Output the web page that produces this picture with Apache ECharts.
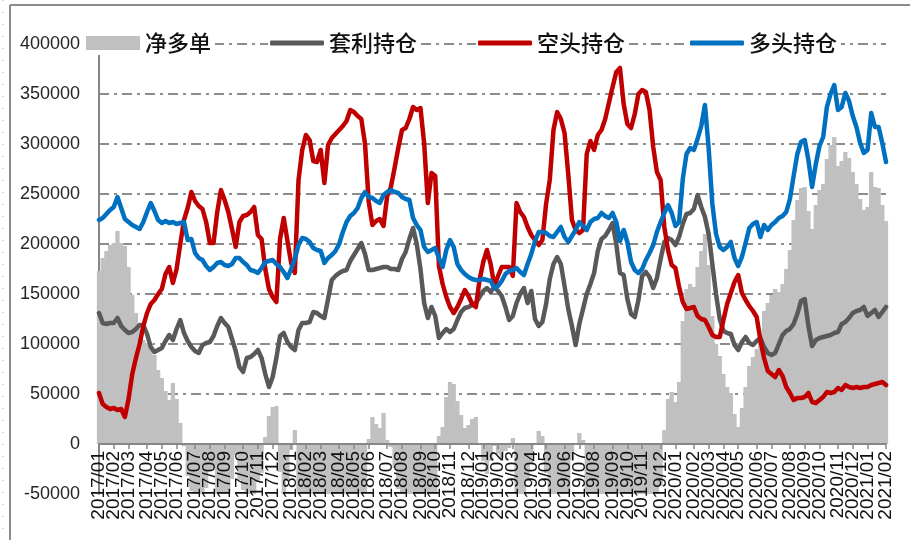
<!DOCTYPE html>
<html>
<head>
<meta charset="utf-8">
<script src="https://cdn.jsdelivr.net/npm/echarts@6/dist/echarts.min.js"></script>
<style>
  html, body { margin: 0; padding: 0; background: #fff; }
  #positionChart { width: 910px; height: 540px; }
</style>
</head>
<body>
<div id="positionChart"></div>
<script>
// weekly categories, 2017/01/06 .. 2021/02/05
var weeks = []
var d = new Date(Date.UTC(2017, 0, 6))
for (var k = 0; k < 214; k++) {
    var mm = ('0' + (d.getUTCMonth() + 1)).slice(-2)
    var dd = ('0' + d.getUTCDate()).slice(-2)
    weeks.push(d.getUTCFullYear() + '/' + mm + '/' + dd)
    d.setUTCDate(d.getUTCDate() + 7)
}

var yTicks = [-50000, 0, 50000, 100000, 150000, 200000, 250000, 300000, 350000, 400000]

// 净多单
var netLong = [
    173000, 186000, 193000, 199000, 201000, 213000, 201000, 198000, 177000, 149000,
    131000, 115000, 104000, 101000, 101000, 89000, 74000, 66000, 53000, 44000,
    61000, 45000, 21000, -2000, -32000, -47000, -50000, -50000, -50000, -44000,
    -27000, -24000, -50000, -50000, -50000, -50000, -35000, -11000, -36000, -46000,
    -50000, -50000, -50000, -38000, -29000, 7000, 28000, 37000, 38000, -28000,
    -50000, -37000, -6000, 14000, -50000, -50000, -50000, -50000, -50000, -50000,
    -50000, -50000, -50000, -50000, -50000, -50000, -50000, -50000, -50000, -50000,
    -50000, -50000, -48000, 5000, 27000, 20000, 16000, 31000, 4000, -3000,
    -24000, -45000, -50000, -50000, -50000, -50000, -50000, -50000, -50000, -49000,
    -50000, -50000, 8000, 17000, 47000, 62000, 60000, 43000, 29000, 16000,
    19000, 25000, 27000, 0, -17000, -30000, -17000, -2000, -10000, -14000,
    -7000, -4000, 6000, -50000, -50000, -50000, -37000, -19000, -1000, 13000,
    8000, -29000, -50000, -50000, -50000, -50000, -50000, -50000, -16000, 0,
    11000, 4000, -50000, -50000, -50000, -50000, -50000, -50000, -50000, -50000,
    -50000, -50000, -50000, -50000, -50000, -50000, -50000, -50000, -50000, -50000,
    -50000, -50000, -42000, 14000, 45000, 52000, 42000, 62000, 123000, 155000,
    160000, 157000, 177000, 193000, 210000, 179000, 128000, 100000, 88000, 70000,
    57000, 51000, 30000, 17000, 36000, 57000, 78000, 87000, 95000, 103000,
    133000, 141000, 149000, 155000, 152000, 160000, 175000, 194000, 224000, 244000,
    256000, 257000, 233000, 215000, 239000, 254000, 260000, 285000, 299000, 307000,
    278000, 283000, 292000, 286000, 272000, 260000, 245000, 234000, 237000, 272000,
    257000, 256000, 239000, 223000
]

// 套利持仓
var spreadPos = [
    131000, 121000, 120000, 121000, 121000, 126000, 118000, 114000, 111000, 112000,
    115000, 119000, 119000, 110000, 97000, 92000, 94000, 96000, 103000, 109000,
    104000, 115000, 124000, 111000, 103000, 97000, 93000, 91000, 99000, 101000,
    102000, 108000, 118000, 126000, 121000, 117000, 105000, 93000, 77000, 72000,
    86000, 87000, 90000, 94000, 86000, 70000, 57000, 67000, 86000, 108000,
    111000, 102000, 97000, 94000, 114000, 121000, 121000, 122000, 132000, 131000,
    128000, 126000, 145000, 164000, 168000, 171000, 173000, 174000, 183000, 189000,
    195000, 201000, 190000, 174000, 174000, 175000, 176000, 177000, 177000, 175000,
    175000, 174000, 185000, 192000, 205000, 216000, 200000, 175000, 141000, 126000,
    137000, 128000, 106000, 111000, 115000, 112000, 115000, 124000, 132000, 136000,
    137000, 139000, 141000, 147000, 153000, 156000, 152000, 157000, 153000, 148000,
    137000, 124000, 128000, 141000, 150000, 156000, 141000, 153000, 125000, 118000,
    122000, 140000, 165000, 180000, 187000, 180000, 158000, 135000, 118000, 99000,
    120000, 135000, 150000, 160000, 171000, 193000, 205000, 208000, 214000, 221000,
    200000, 171000, 169000, 145000, 130000, 127000, 144000, 168000, 172000, 167000,
    156000, 166000, 185000, 202000, 206000, 204000, 199000, 207000, 220000, 230000,
    231000, 235000, 249000, 237000, 227000, 210000, 180000, 150000, 125000, 113000,
    111000, 110000, 99000, 94000, 102000, 107000, 101000, 99000, 103000, 106000,
    97000, 91000, 89000, 91000, 100000, 109000, 113000, 115000, 120000, 130000,
    143000, 145000, 118000, 98000, 104000, 106000, 107000, 108000, 109000, 111000,
    112000, 120000, 122000, 126000, 131000, 133000, 134000, 137000, 128000, 131000,
    134000, 127000, 132000, 137000
]

// 空头持仓
var shortPos = [
    51000, 40000, 37000, 35000, 36000, 34000, 35000, 27000, 45000, 70000,
    86000, 100000, 118000, 131000, 140000, 144000, 150000, 155000, 170000, 177000,
    161000, 175000, 200000, 224000, 236000, 252000, 243000, 238000, 235000, 222000,
    201000, 201000, 232000, 254000, 244000, 232000, 215000, 197000, 222000, 228000,
    229000, 232000, 237000, 209000, 205000, 175000, 155000, 147000, 142000, 205000,
    226000, 203000, 181000, 171000, 264000, 294000, 309000, 304000, 283000, 282000,
    294000, 261000, 299000, 306000, 310000, 314000, 318000, 323000, 334000, 332000,
    328000, 325000, 300000, 242000, 219000, 223000, 225000, 218000, 248000, 257000,
    276000, 296000, 314000, 316000, 325000, 337000, 334000, 336000, 301000, 241000,
    271000, 268000, 178000, 160000, 147000, 137000, 131000, 137000, 145000, 154000,
    148000, 140000, 137000, 164000, 182000, 194000, 180000, 158000, 168000, 177000,
    177000, 177000, 168000, 241000, 232000, 227000, 217000, 209000, 204000, 199000,
    204000, 240000, 264000, 314000, 332000, 325000, 311000, 270000, 224000, 214000,
    211000, 214000, 290000, 303000, 294000, 309000, 314000, 325000, 341000, 357000,
    372000, 376000, 340000, 320000, 316000, 330000, 350000, 354000, 352000, 334000,
    297000, 272000, 264000, 217000, 194000, 179000, 176000, 157000, 142000, 135000,
    136000, 137000, 128000, 125000, 124000, 117000, 109000, 107000, 107000, 124000,
    140000, 151000, 162000, 169000, 151000, 144000, 138000, 133000, 127000, 104000,
    86000, 73000, 70000, 67000, 74000, 68000, 57000, 51000, 44000, 46000,
    46000, 47000, 51000, 42000, 41000, 44000, 47000, 52000, 51000, 52000,
    56000, 54000, 59000, 57000, 56000, 57000, 56000, 57000, 57000, 59000,
    60000, 61000, 62000, 59000
]

// 多头持仓
var longPos = [
    224000, 226000, 230000, 234000, 237000, 247000, 236000, 225000, 222000, 219000,
    217000, 215000, 222000, 232000, 241000, 233000, 224000, 221000, 223000, 221000,
    222000, 220000, 221000, 222000, 204000, 205000, 191000, 186000, 184000, 178000,
    174000, 177000, 181000, 182000, 179000, 178000, 180000, 186000, 186000, 182000,
    179000, 174000, 173000, 171000, 176000, 182000, 183000, 184000, 180000, 177000,
    172000, 166000, 175000, 185000, 199000, 206000, 205000, 202000, 196000, 194000,
    193000, 181000, 186000, 189000, 193000, 200000, 212000, 222000, 228000, 231000,
    236000, 246000, 252000, 247000, 246000, 243000, 241000, 249000, 252000, 254000,
    252000, 251000, 247000, 245000, 244000, 226000, 219000, 214000, 197000, 192000,
    194000, 196000, 186000, 177000, 194000, 204000, 197000, 180000, 174000, 170000,
    167000, 165000, 164000, 164000, 165000, 164000, 163000, 156000, 158000, 163000,
    170000, 173000, 174000, 176000, 172000, 169000, 180000, 190000, 203000, 212000,
    212000, 211000, 208000, 207000, 212000, 217000, 207000, 202000, 208000, 214000,
    222000, 218000, 214000, 222000, 225000, 226000, 231000, 228000, 226000, 231000,
    222000, 203000, 214000, 202000, 182000, 174000, 171000, 175000, 184000, 191000,
    199000, 212000, 222000, 231000, 239000, 231000, 218000, 222000, 265000, 290000,
    296000, 294000, 305000, 318000, 339000, 296000, 240000, 210000, 197000, 194000,
    197000, 202000, 186000, 178000, 187000, 201000, 216000, 220000, 222000, 207000,
    219000, 214000, 219000, 222000, 226000, 228000, 232000, 245000, 268000, 290000,
    302000, 304000, 284000, 257000, 280000, 298000, 307000, 337000, 350000, 359000,
    334000, 337000, 351000, 343000, 328000, 317000, 301000, 291000, 294000, 331000,
    317000, 317000, 301000, 282000
]

function isMonthStart(idx) {
    return idx === 0 || weeks[idx].slice(0, 7) !== weeks[idx - 1].slice(0, 7)
}

var legendFont = {
    fontFamily: 'Noto Sans CJK SC',
    fontSize: 22,
    fontWeight: 500,
    color: '#111'
}

function makeLegend(name, left, icon, h) {
    return {
        data: [{ name: name, icon: icon }],
        left: left,
        top: 31,
        padding: [1, 4, 1, 2],
        itemWidth: 54,
        itemHeight: h,
        backgroundColor: '#fff',
        textStyle: legendFont
    }
}

var positionChart = echarts.init(document.getElementById('positionChart'), null, { renderer: 'canvas' })

var option = {
    backgroundColor: '#fff',
    animation: false,
    textStyle: { fontFamily: 'Liberation Sans' },
    grid: {
        left: 99,
        right: 24,
        top: 44,
        bottom: 46,
        containLabel: false,
        outerBoundsMode: 'none'
    },
    legend: [
        makeLegend('净多单', 84, 'rect', 14),
        makeLegend('套利持仓', 268, 'roundRect', 5),
        makeLegend('空头持仓', 476, 'roundRect', 5),
        makeLegend('多头持仓', 688, 'roundRect', 5)
    ],
    graphic: [
        { type: 'line', shape: { x1: 10, y1: 5, x2: 910, y2: 5 }, style: { stroke: '#8c8c8c', lineWidth: 2 } },
        { type: 'line', shape: { x1: 10, y1: 5, x2: 10, y2: 540 }, style: { stroke: '#8c8c8c', lineWidth: 2 } },
        { type: 'line', shape: { x1: 3, y1: 0, x2: 3, y2: 540 }, style: { stroke: '#b0b0b0', lineWidth: 1, lineDash: [1, 11] } }
    ],
    xAxis: {
        type: 'category',
        data: weeks,
        boundaryGap: false,
        position: 'bottom',
        offset: -50,
        z: 5,
        axisLine: {
            onZero: false,
            lineStyle: { color: '#868686', width: 2 }
        },
        axisTick: {
            show: true,
            interval: function (idx) { return isMonthStart(idx) },
            length: 5,
            lineStyle: { color: '#868686', width: 1.5 }
        },
        axisLabel: {
            interval: 0,
            formatter: function (val, idx) { return isMonthStart(idx) ? val.slice(0, 7) : '' },
            rotate: 90,
            margin: 7,
            fontSize: 19,
            lineHeight: 12,
            color: '#111',
            showMinLabel: true,
            showMaxLabel: true,
            hideOverlap: false,
            fontFamily: 'Liberation Sans'
        },
        splitLine: { show: false }
    },
    yAxis: {
        type: 'value',
        min: yTicks[0],
        max: yTicks[yTicks.length - 1],
        interval: 50000,
        axisLine: {
            show: true,
            lineStyle: { color: '#868686', width: 2 }
        },
        axisTick: { show: false },
        axisLabel: {
            formatter: function (v) { return String(v) },
            margin: 19,
            fontSize: 18,
            color: '#262626',
            fontFamily: 'Liberation Sans'
        },
        splitLine: {
            show: true,
            showMinLine: false,
            lineStyle: {
                color: '#8c8c8c',
                width: 2,
                type: [10, 5, 3, 5]
            }
        }
    },
    series: [
        {
            name: '净多单',
            type: 'bar',
            data: netLong,
            barWidth: 4.3,
            clip: true,
            itemStyle: { color: '#c0c0c0' }
        },
        {
            name: '套利持仓',
            type: 'line',
            data: spreadPos,
            symbol: 'none',
            lineStyle: { color: '#595959', width: 4.5, cap: 'round', join: 'round' },
            itemStyle: { color: '#595959' }
        },
        {
            name: '空头持仓',
            type: 'line',
            data: shortPos,
            symbol: 'none',
            lineStyle: { color: '#c00000', width: 4.5, cap: 'round', join: 'round' },
            itemStyle: { color: '#c00000' }
        },
        {
            name: '多头持仓',
            type: 'line',
            data: longPos,
            symbol: 'none',
            lineStyle: { color: '#0070c0', width: 4.5, cap: 'round', join: 'round' },
            itemStyle: { color: '#0070c0' }
        }
    ]
}

positionChart.setOption(option)
window.onresize = function () {
    positionChart.resize()
}
</script>
</body>
</html>
